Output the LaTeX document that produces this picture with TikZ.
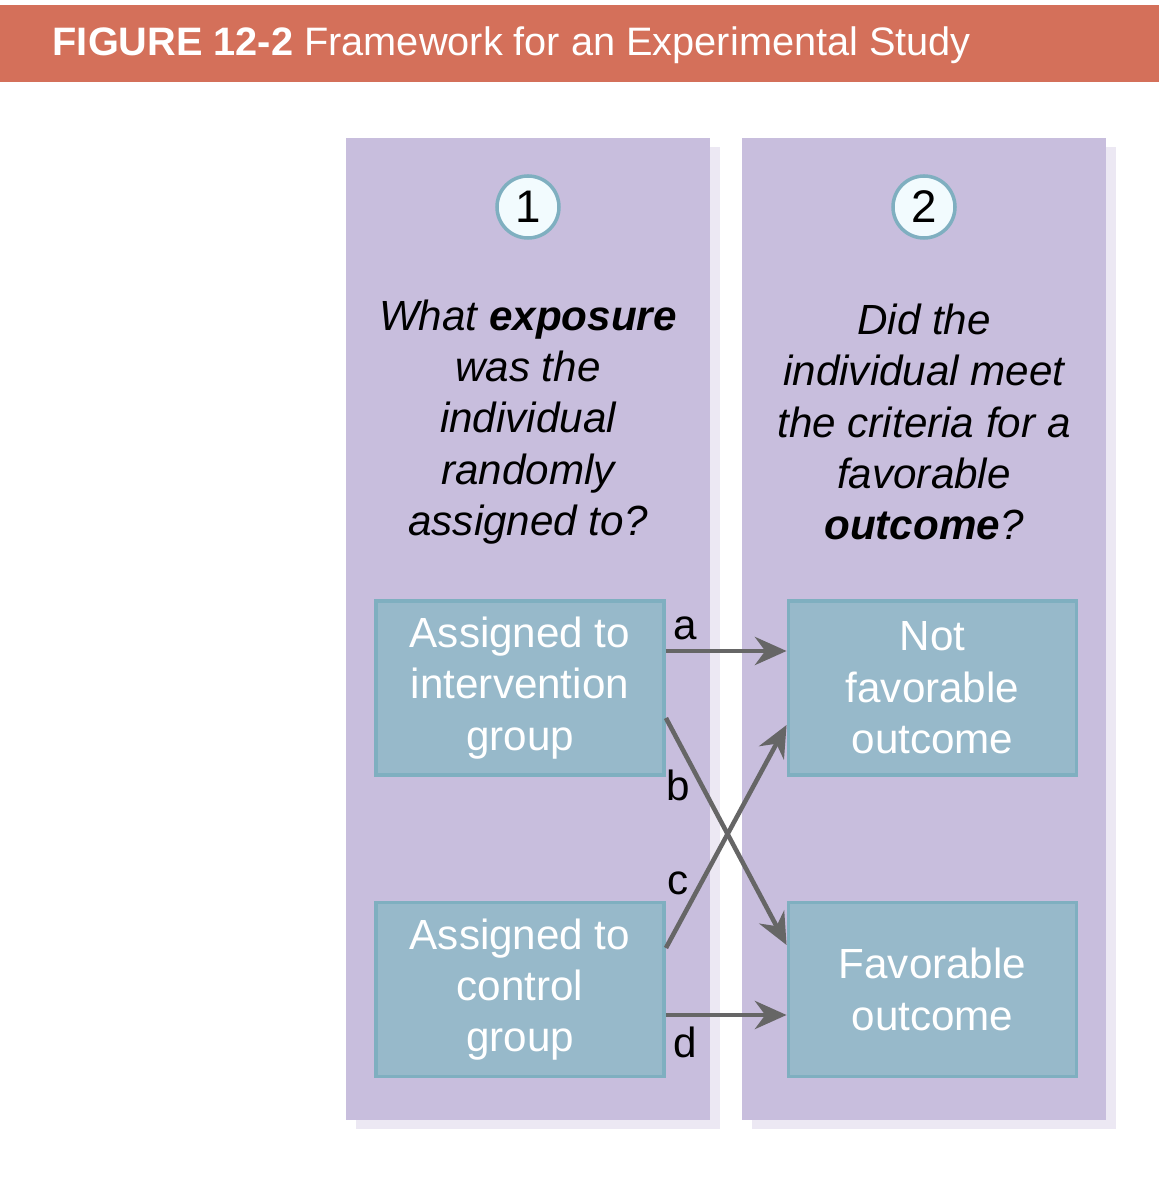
\documentclass[tikz,border=0pt]{standalone}
\usepackage{fontspec}
\setmainfont{Liberation Sans}
\usetikzlibrary{positioning, arrows.meta, calc}
\definecolor{header}{HTML}{D4705A}
\definecolor{column}{HTML}{C8BEDD}
\definecolor{boxfill}{HTML}{97B9CA}
\definecolor{boxline}{HTML}{7FAFC0}
\definecolor{arrowgray}{HTML}{666666}
\begin{document}
\begin{tikzpicture}[
    col/.style={rectangle, fill=column, minimum width=3.64cm, minimum height=9.82cm, inner sep=0pt},
    shade/.style={rectangle, fill=column!35, minimum width=3.64cm, minimum height=9.82cm, inner sep=0pt},
    stepnum/.style={circle, draw=boxline, line width=1pt, fill=cyan!5, minimum size=0.62cm, inner sep=0pt, font=\fontsize{13}{15}\selectfont},
    question/.style={align=center, font=\fontsize{12}{14.6}\selectfont\itshape},
    group/.style={rectangle, draw=boxline, line width=1.1pt, fill=boxfill, text=white, minimum width=2.88cm, minimum height=1.74cm, align=center, font=\fontsize{12}{14.6}\selectfont},
    arrow/.style={-{Stealth[length=9pt, width=8pt]}, arrowgray, line width=1.3pt},
    lab/.style={font=\fontsize{12}{14}\selectfont, inner sep=1pt}
]
    \useasboundingbox (0,0) rectangle (11.59,12);
    % header
    \fill[header] (0,11.18) rectangle (11.59,11.95);
    \node[anchor=west, text=white, font=\fontsize{11.3}{13}\selectfont, inner sep=0pt] (title) at (0.52,11.55) {\textbf{FIGURE 12-2} Framework for an Experimental Study};
    % columns
    \node[shade] at (5.38,5.62) {};
    \node[shade] at (9.34,5.62) {};
    \node[col] (left) at (5.28,5.71) {};
    \node[col] (right) at (9.24,5.71) {};
    \node[stepnum] (one) at (5.28,9.93) {1};
    \node[stepnum] (two) at (9.24,9.93) {2};
    \node[question] (q1) at (5.28,7.78) {What \textbf{exposure}\\was the\\individual\\randomly\\assigned to?};
    \node[question] (q2) at (9.24,7.78) {Did the\\individual meet\\the criteria for a\\favorable\\\textbf{outcome}?};
    % boxes
    \node[group] (int) at (5.20,5.12) {Assigned to\\intervention\\group};
    \node[group] (ctl) at (5.20,2.105) {Assigned to\\control\\group};
    \node[group] (notfav) at (9.325,5.12) {Not\\favorable\\outcome};
    \node[group] (fav) at (9.325,2.105) {Favorable\\outcome};
    % arrows
    \draw[arrow] ([yshift=0.37cm]int.east) -- ([yshift=0.37cm]notfav.west);
    \draw[arrow] ([yshift=-0.30cm]int.east) -- ([yshift=0.445cm]fav.west);
    \draw[arrow] ([yshift=0.415cm]ctl.east) -- ([yshift=-0.37cm]notfav.west);
    \draw[arrow] ([yshift=-0.255cm]ctl.east) -- ([yshift=-0.255cm]fav.west);
    \node[lab] (la) at (6.85,5.72) {a};
    \node[lab] (lb) at (6.78,4.15) {b};
    \node[lab] (lc) at (6.78,3.17) {c};
    \node[lab] (ld) at (6.85,1.58) {d};
\end{tikzpicture}
\end{document}
